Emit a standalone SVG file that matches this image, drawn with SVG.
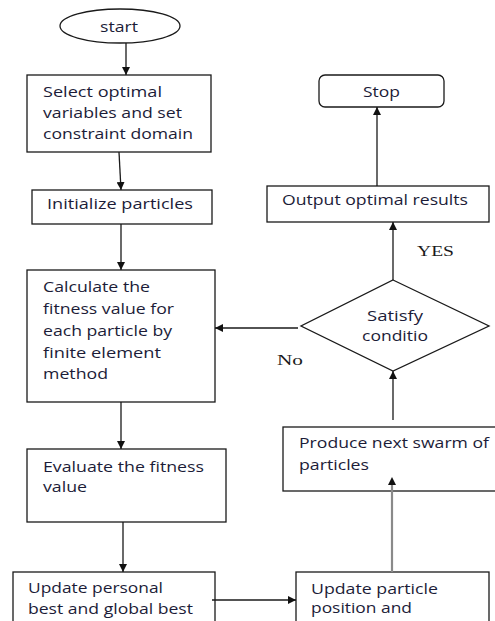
<svg xmlns="http://www.w3.org/2000/svg" width="495" height="621" viewBox="0 0 495 621">
<style>
.box{fill:#fff;stroke:#1a1a1a;stroke-width:1.3}
.t{font-family:"Open Sans","Liberation Sans",sans-serif;font-size:14.5px;fill:#1c1c38}
.s{font-family:"Liberation Serif",serif;font-size:14px;fill:#1a1a1a}
.c{stroke:#1a1a1a;stroke-width:1.3;fill:none}
.g{stroke:#8a8a8a;stroke-width:2.2;fill:none}
</style>
<defs>
<marker id="ah" markerWidth="8" markerHeight="8" viewBox="0 0 8 8" refX="8" refY="4" orient="auto" markerUnits="userSpaceOnUse">
<path d="M0,0 L8,4 L0,8 Z" fill="#111"/>
</marker>
</defs>
<rect width="495" height="621" fill="#fff"/>
<g id="start">
<ellipse class="box" cx="120" cy="26" rx="60" ry="17"/>
<text class="t" x="100" y="32" textLength="38" lengthAdjust="spacingAndGlyphs">start</text>
</g>
<g id="select">
<rect class="box" x="27" y="75" width="184" height="77"/>
<text class="t" x="43" y="97" textLength="119" lengthAdjust="spacingAndGlyphs">Select optimal</text>
<text class="t" x="43" y="118" textLength="139" lengthAdjust="spacingAndGlyphs">variables and set</text>
<text class="t" x="43" y="139" textLength="150" lengthAdjust="spacingAndGlyphs">constraint domain</text>
</g>
<g id="init">
<rect class="box" x="32" y="190" width="180" height="34"/>
<text class="t" x="47" y="209" textLength="146" lengthAdjust="spacingAndGlyphs">Initialize particles</text>
</g>
<g id="calc">
<rect class="box" x="27" y="270" width="188" height="132"/>
<text class="t" x="43" y="292" textLength="107" lengthAdjust="spacingAndGlyphs">Calculate the</text>
<text class="t" x="43" y="314" textLength="131" lengthAdjust="spacingAndGlyphs">fitness value for</text>
<text class="t" x="43" y="336" textLength="129" lengthAdjust="spacingAndGlyphs">each particle by</text>
<text class="t" x="43" y="358" textLength="118" lengthAdjust="spacingAndGlyphs">finite element</text>
<text class="t" x="43" y="379" textLength="65" lengthAdjust="spacingAndGlyphs">method</text>
</g>
<g id="evaluate">
<rect class="box" x="27" y="449" width="199" height="73"/>
<text class="t" x="43" y="472" textLength="161" lengthAdjust="spacingAndGlyphs">Evaluate the fitness</text>
<text class="t" x="43" y="492" textLength="44" lengthAdjust="spacingAndGlyphs">value</text>
</g>
<g id="update-best">
<rect class="box" x="13" y="572" width="202" height="60"/>
<text class="t" x="28" y="593" textLength="135" lengthAdjust="spacingAndGlyphs">Update personal</text>
<text class="t" x="28" y="614" textLength="165" lengthAdjust="spacingAndGlyphs">best and global best</text>
</g>
<g id="update-position">
<rect class="box" x="296" y="572" width="193" height="60"/>
<text class="t" x="311" y="594" textLength="127" lengthAdjust="spacingAndGlyphs">Update particle</text>
<text class="t" x="311" y="613" textLength="101" lengthAdjust="spacingAndGlyphs">position and</text>
</g>
<g id="produce">
<rect class="box" x="283" y="427" width="220" height="64"/>
<text class="t" x="299" y="448" textLength="190" lengthAdjust="spacingAndGlyphs">Produce next swarm of</text>
<text class="t" x="299" y="470" textLength="70" lengthAdjust="spacingAndGlyphs">particles</text>
</g>
<g id="satisfy">
<polygon class="box" points="393,280 489,326 393,371 301,326"/>
<text class="t" x="367" y="321" textLength="56" lengthAdjust="spacingAndGlyphs">Satisfy</text>
<text class="t" x="362" y="341" textLength="66" lengthAdjust="spacingAndGlyphs">conditio</text>
</g>
<g id="output">
<rect class="box" x="267" y="186" width="222" height="36"/>
<text class="t" x="282" y="205" textLength="186" lengthAdjust="spacingAndGlyphs">Output optimal results</text>
</g>
<g id="stop">
<rect class="box" x="319" y="75" width="125" height="32" rx="6"/>
<text class="t" x="363" y="97" textLength="37" lengthAdjust="spacingAndGlyphs">Stop</text>
</g>
<g id="connectors">
<line class="c" x1="126" y1="43" x2="126" y2="75" marker-end="url(#ah)"/>
<line class="c" x1="119" y1="152" x2="121" y2="190" marker-end="url(#ah)"/>
<line class="c" x1="121" y1="224" x2="121" y2="270" marker-end="url(#ah)"/>
<line class="c" x1="121" y1="402" x2="121" y2="449" marker-end="url(#ah)"/>
<line class="c" x1="123" y1="522" x2="123" y2="572" marker-end="url(#ah)"/>
<line class="c" x1="212" y1="600" x2="296" y2="600" marker-end="url(#ah)"/>
<line class="g" x1="392" y1="572" x2="392" y2="484"/>
<path d="M388,485 L392,477 L396,485 Z" fill="#111"/>
<line class="c" x1="393" y1="420" x2="393" y2="371" marker-end="url(#ah)"/>
<line class="c" x1="393" y1="280" x2="393" y2="222" marker-end="url(#ah)"/>
<line class="c" x1="377" y1="186" x2="377" y2="107" marker-end="url(#ah)"/>
<line class="c" x1="298" y1="328" x2="215" y2="328" marker-end="url(#ah)"/>
<text class="s" x="417" y="256" textLength="37" lengthAdjust="spacingAndGlyphs">YES</text>
<text class="s" x="277" y="365" textLength="26" lengthAdjust="spacingAndGlyphs">No</text>
</g>
</svg>
